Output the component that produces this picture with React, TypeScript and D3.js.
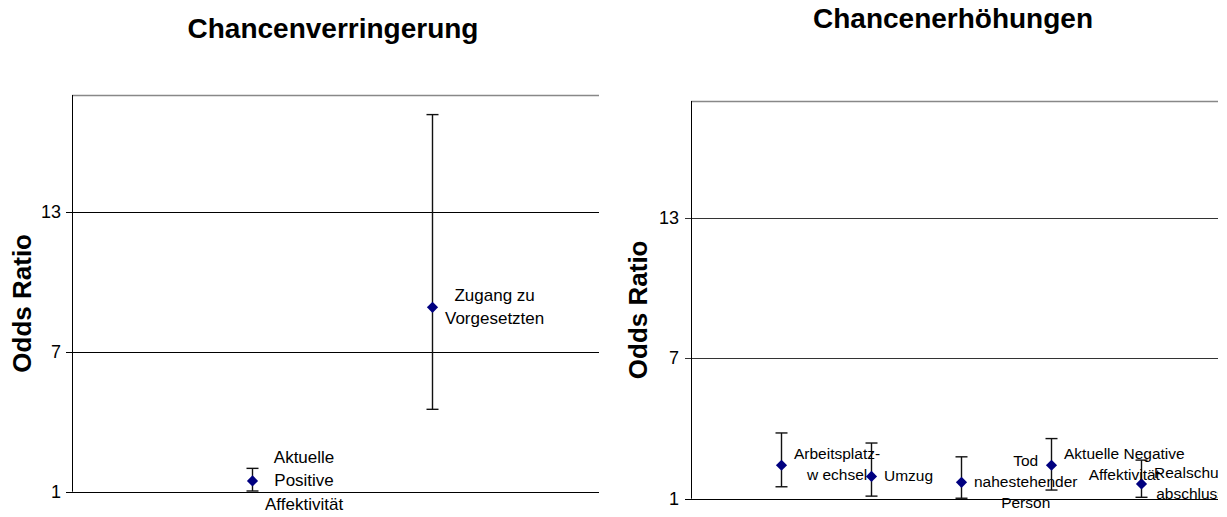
import React, { useEffect, useRef } from "react";
import * as d3 from "d3";

// ---- Data ----
const leftTitle = "Chancenverringerung";
const rightTitle = "Chancenerhöhungen";
const yAxisTitle = "Odds Ratio";
const yTicks = [1, 7, 13];
const yDomain = [1, 18];

const leftLabels = [["Aktuelle", "Positive", "Affektivität"], ["Zugang zu", "Vorgesetzten"]];
const leftX = [1, 2];
const leftOR = [1.46, 8.9];
const leftLower = [1.03, 4.53];
const leftUpper = [2.0, 17.16];

const rightLabels = [
  ["Arbeitsplatz-", "w echsel"],
  ["Umzug"],
  ["Tod", "nahestehender", "Person"],
  ["Aktuelle Negative", "Affektivität"],
  ["Realschul-", "abschluss"],
];
const rightX = [1, 2, 3, 4, 5];
const rightOR = [2.43, 1.95, 1.7, 2.43, 1.63];
const rightLower = [1.51, 1.11, 1.02, 1.37, 1.06];
const rightUpper = [3.81, 3.38, 2.79, 3.57, 2.65];

type Panel = {
  id: string;
  title: string;
  titleX: number;
  titleY: number;
  x0: number; x1: number; y0: number; y1: number;
  xDomain: [number, number];
  xs: number[]; or: number[]; lo: number[]; hi: number[];
  labels: string[][];
  labelSize: number;
  lineH: number;
  tickRight: number;
  axisTitleX: number;
  gridColor: string;
};

export default function App() {
  const ref = useRef<SVGSVGElement>(null);

  useEffect(() => {
    const svg = d3.select(ref.current);
    svg.selectAll("*").remove();
    const font = "Arial, 'Liberation Sans', Helvetica, sans-serif";

    const panels: Panel[] = [
      {
        id: "l", title: leftTitle, titleX: 333, titleY: 38,
        x0: 72, x1: 599, y0: 95, y1: 491.7, xDomain: [0, 527 / 180],
        xs: leftX, or: leftOR, lo: leftLower, hi: leftUpper, labels: leftLabels,
        labelSize: 17, lineH: 23.5, tickRight: 61, axisTitleX: 22, gridColor: "#000",
      },
      {
        id: "r", title: rightTitle, titleX: 953, titleY: 28,
        x0: 691, x1: 1218, y0: 101, y1: 498.7, xDomain: [0, 527 / 90],
        xs: rightX, or: rightOR, lo: rightLower, hi: rightUpper, labels: rightLabels,
        labelSize: 15.5, lineH: 21, tickRight: 679, axisTitleX: 638, gridColor: "#333",
      },
    ];

    panels.forEach((p) => {
      const x = d3.scaleLinear().domain(p.xDomain).range([p.x0, p.x1]);
      const y = d3.scaleLinear().domain(yDomain).range([p.y1, p.y0]);
      const g = svg.append("g");

      g.append("defs").append("clipPath").attr("id", "clip-" + p.id)
        .append("rect").attr("x", 0).attr("y", 0).attr("width", p.x1).attr("height", 517);

      // title
      g.append("text").attr("x", p.titleX).attr("y", p.titleY)
        .attr("text-anchor", "middle").attr("font-family", font)
        .attr("font-weight", "bold").attr("font-size", 28).text(p.title);

      // top border
      g.append("line").attr("x1", p.x0).attr("x2", p.x1)
        .attr("y1", p.y0 + 0.5).attr("y2", p.y0 + 0.5)
        .attr("stroke", "#888").attr("stroke-width", 1.5);

      // gridlines
      yTicks.filter((t) => t !== 1).forEach((t) => {
        g.append("line").attr("x1", p.x0 - 6).attr("x2", p.x1)
          .attr("y1", Math.round(y(t)) + 0.5).attr("y2", Math.round(y(t)) + 0.5)
          .attr("stroke", p.gridColor).attr("stroke-width", 1);
      });

      // axes
      g.append("line").attr("x1", p.x0 + 0.5).attr("x2", p.x0 + 0.5)
        .attr("y1", p.y0).attr("y2", p.y1).attr("stroke", "#000");
      g.append("line").attr("x1", p.x0 - 6).attr("x2", p.x1)
        .attr("y1", Math.round(p.y1) + 0.5).attr("y2", Math.round(p.y1) + 0.5)
        .attr("stroke", "#000");

      // tick labels
      yTicks.forEach((t) => {
        g.append("text").attr("x", p.tickRight).attr("y", y(t) + 6)
          .attr("text-anchor", "end").attr("font-family", font)
          .attr("font-size", 18).text(String(t));
      });

      // axis title
      const ay = (p.y0 + p.y1) / 2 + 10;
      g.append("text").attr("transform", `translate(${p.axisTitleX + 9},${ay}) rotate(-90)`)
        .attr("text-anchor", "middle").attr("font-family", font)
        .attr("font-weight", "bold").attr("font-size", 26).text(yAxisTitle);

      // error bars
      p.xs.forEach((xv, i) => {
        const cx = Math.round(x(xv)) + 0.5;
        g.append("line").attr("x1", cx).attr("x2", cx)
          .attr("y1", y(p.lo[i])).attr("y2", y(p.hi[i]))
          .attr("stroke", "#111").attr("stroke-width", 1.4);
        [p.lo[i], p.hi[i]].forEach((v) => {
          g.append("line").attr("x1", cx - 6).attr("x2", cx + 6)
            .attr("y1", y(v)).attr("y2", y(v))
            .attr("stroke", "#111").attr("stroke-width", 1.4);
        });
      });

      // points
      const sym = d3.symbol().type(d3.symbolDiamond2).size(80);
      p.xs.forEach((xv, i) => {
        g.append("path").attr("d", sym() as string)
          .attr("transform", `translate(${Math.round(x(xv)) + 0.5},${y(p.or[i])})`)
          .attr("fill", "#000080");
      });

      // labels
      const lg = g.append("g").attr("clip-path", `url(#clip-${p.id})`);
      p.xs.forEach((xv, i) => {
        const lines = p.labels[i];
        const left = x(xv) + 13;
        const texts = lines.map((s) =>
          lg.append("text").attr("font-family", font).attr("font-size", p.labelSize)
            .attr("text-anchor", "middle").attr("fill", "#000").text(s)
        );
        const widths = texts.map((t) => (t.node() as SVGTextElement).getComputedTextLength());
        const w = Math.max(...widths);
        const n = lines.length;
        texts.forEach((t, j) => {
          t.attr("x", left + w / 2)
            .attr("y", y(p.or[i]) + (j - (n - 1) / 2) * p.lineH + p.labelSize * 0.3);
        });
      });
    });
  }, []);

  return (
    <svg ref={ref} width={1227} height={517}
      style={{ position: "absolute", left: 0, top: 0, background: "#fff" }} />
  );
}
